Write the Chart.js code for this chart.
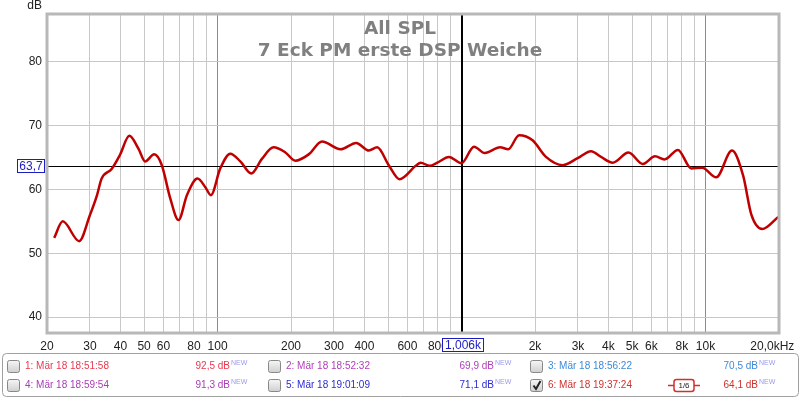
<!DOCTYPE html>
<html><head><meta charset="utf-8">
<script src="https://cdn.jsdelivr.net/npm/chart.js@4/dist/chart.umd.min.js"></script>
<style>html,body{margin:0;padding:0;background:#fff;overflow:hidden}#wrap{width:800px;height:398px;position:relative}</style>
</head><body><div id="wrap"><canvas id="c" width="800" height="398"></canvas></div>
<script>
// ---- data ----
const frequencies = [21.4,23.2,27.1,30.0,32.0,33.5,36.8,39.8,43.5,47.4,50.5,55.0,59.1,64.0,69.2,74.9,82.8,89.0,93.9,102.6,112.8,124,137.5,152,169.8,189.7,208.4,236.4,268,319,370,417,451,503,557,649,680,740,796,888,999,1125,1245,1439,1553,1722,1955,2218,2597,2991,3395,3731,4166,4831,5535,6211,6788,7706,8737,9690,11060,12830,14250,15420,17060,19860];
const splDb = [52.4,55.0,51.9,56.0,59.0,61.7,63.2,65.4,68.4,66.4,64.4,65.5,63.8,58.6,55.2,59.1,61.7,60.4,59.1,63.3,65.6,64.4,62.5,64.8,66.6,65.8,64.5,65.5,67.5,66.3,67.3,66.1,66.6,63.8,61.6,63.7,64.2,63.7,64.2,65.1,64.1,66.7,65.7,66.6,66.3,68.5,67.7,65.1,63.8,64.9,66.0,65.1,64.2,65.8,64.0,65.2,64.7,66.2,63.3,63.4,61.9,66.1,62.2,56.0,53.8,55.7];
const yTickValues = [40,50,60,70,80];
const xGridFrequencies = [20,30,40,50,60,70,80,90,100,200,300,400,500,600,700,800,900,1000,2000,3000,4000,5000,6000,7000,8000,9000,10000,20000];
const xTickLabels = {20:'20',30:'30',40:'40',50:'50',60:'60',80:'80',100:'100',200:'200',300:'300',400:'400',600:'600',800:'800',2000:'2k',3000:'3k',4000:'4k',5000:'5k',6000:'6k',8000:'8k',10000:'10k',20000:'20,0kHz    '};
const decadeFrequencies = [100,1000,10000];
const titleLines = ['All SPL','7 Eck PM erste DSP Weiche'];
const yUnitLabel = 'dB';
const cursorFreq = 1006, cursorLevel = 63.7;
const cursorFreqLabel = '1,006k', cursorLevelLabel = '63,7';
const legendNames = ['1: Mär 18 18:51:58','2: Mär 18 18:52:32','3: Mär 18 18:56:22','4: Mär 18 18:59:54','5: Mär 18 19:01:09','6: Mär 18 19:37:24'];
const legendLevels = ['92,5 dB','69,9 dB','70,5 dB','91,3 dB','71,1 dB','64,1 dB'];
const legendColors = ['#e8384f','#b040b8','#3d8ad6','#a83cb4','#2b2bd0','#d0302c'];
const legendChecked = [false,false,false,false,false,true];
const smoothingLabel = '1/6';

const FONT = "'Liberation Sans', Arial, sans-serif";
const TITLE_FONT = "'DejaVu Sans', sans-serif";

const bgPlugin = {
  id: 'bg',
  beforeDraw(chart) {
    const ctx = chart.ctx;
    ctx.save(); ctx.fillStyle = '#fff'; ctx.fillRect(0,0,chart.width,chart.height); ctx.restore();
  },
  beforeDatasetsDraw(chart) {
    const ctx = chart.ctx, a = chart.chartArea;
    const xs = chart.scales.x, ys = chart.scales.y;
    ctx.save();
    ctx.fillStyle = '#808080';
    ctx.font = 'bold 18.5px ' + TITLE_FONT;
    ctx.textAlign = 'center'; ctx.textBaseline = 'alphabetic';
    ctx.fillText(titleLines[0], 400, 33.5);
    ctx.fillText(titleLines[1], 400, 56);
    ctx.strokeStyle = '#000';
    ctx.lineWidth = 1;
    const cy = Math.round(ys.getPixelForValue(cursorLevel)) + 0.5;
    ctx.beginPath(); ctx.moveTo(a.left, cy); ctx.lineTo(a.right, cy); ctx.stroke();
    ctx.lineWidth = 2;
    const cx = Math.round(xs.getPixelForValue(cursorFreq));
    ctx.beginPath(); ctx.moveTo(cx, a.top); ctx.lineTo(cx, a.bottom); ctx.stroke();
    ctx.restore();
  },
  afterDraw(chart) {
    const ctx = chart.ctx, a = chart.chartArea;
    const xs = chart.scales.x, ys = chart.scales.y;
    ctx.save();
    ctx.strokeStyle = '#b8b8b8'; ctx.lineWidth = 3;
    ctx.strokeRect(a.left, a.top, a.right - a.left, a.bottom - a.top);
    ctx.fillStyle = '#222'; ctx.font = '12px ' + FONT;
    ctx.textAlign = 'right'; ctx.textBaseline = 'top';
    ctx.fillText(yUnitLabel, 42, 0);
    ctx.font = '12px ' + FONT; ctx.textBaseline = 'middle';
    const cy = ys.getPixelForValue(cursorLevel);
    let w = Math.round(ctx.measureText(cursorLevelLabel).width + 4);
    const lx = Math.round(a.left - 3 - w);
    ctx.fillStyle = '#fff'; ctx.fillRect(lx, Math.round(cy) - 6, w, 13);
    ctx.strokeStyle = '#1c1cc0'; ctx.lineWidth = 1;
    ctx.strokeRect(lx + 0.5, Math.round(cy) - 6.5, w, 13);
    ctx.fillStyle = '#1c1cc0'; ctx.textAlign = 'center';
    ctx.fillText(cursorLevelLabel, lx + w/2 + 0.5, Math.round(cy) + 0.5);
    const cx = xs.getPixelForValue(cursorFreq);
    w = Math.round(ctx.measureText(cursorFreqLabel).width + 5);
    const fx = Math.round(cx - w/2);
    ctx.fillStyle = '#fff'; ctx.fillRect(fx, 338, w, 13);
    ctx.strokeStyle = '#1c1cc0';
    ctx.strokeRect(fx + 0.5, 338.5, w, 13);
    ctx.fillStyle = '#1c1cc0';
    ctx.fillText(cursorFreqLabel, fx + w/2 + 0.5, 345.5);
    ctx.strokeStyle = '#a0a0a0'; ctx.lineWidth = 1;
    ctx.beginPath(); ctx.roundRect(2.5, 353.5, 796, 43, 4); ctx.stroke();
    const colX = [7, 268, 530];
    const levelRight = [230, 494, 758];
    const rowY = [366, 385];
    for (let i = 0; i < legendNames.length; i++) {
      const r = Math.floor(i / 3), c = i % 3;
      const bx = colX[c] + 0.5, by = rowY[r] - 6 + 0.5;
      const g = ctx.createLinearGradient(0, by, 0, by + 12);
      g.addColorStop(0, '#f6f6f6'); g.addColorStop(1, '#cfcfcf');
      ctx.fillStyle = g; ctx.strokeStyle = '#888';
      ctx.beginPath(); ctx.roundRect(bx, by, 12, 12, 2); ctx.fill(); ctx.stroke();
      if (legendChecked[i]) {
        ctx.strokeStyle = '#222'; ctx.lineWidth = 2;
        ctx.beginPath(); ctx.moveTo(bx + 3, by + 6); ctx.lineTo(bx + 5.5, by + 9.5); ctx.lineTo(bx + 10, by + 1.5); ctx.stroke();
        ctx.lineWidth = 1;
      }
      ctx.font = '10px ' + FONT; ctx.textBaseline = 'middle';
      ctx.fillStyle = legendColors[i]; ctx.textAlign = 'left';
      ctx.fillText(legendNames[i], colX[c] + 18, rowY[r] + 0.5);
      ctx.textAlign = 'right';
      ctx.fillText(legendLevels[i], levelRight[c], rowY[r] + 0.5);
      ctx.font = '7px ' + FONT; ctx.textAlign = 'left'; ctx.fillStyle = '#9a9aee';
      ctx.fillText('NEW', levelRight[c] + 1, rowY[r] - 3);
      if (legendChecked[i]) {
        const sy = rowY[r] + 0.5;
        ctx.strokeStyle = legendColors[i]; ctx.lineWidth = 1.5;
        ctx.beginPath(); ctx.moveTo(668, sy); ctx.lineTo(674, sy); ctx.moveTo(694, sy); ctx.lineTo(700, sy); ctx.stroke();
        ctx.beginPath(); ctx.roundRect(674, sy - 6, 20, 12, 2.5); ctx.stroke();
        ctx.fillStyle = '#222'; ctx.font = '8px ' + FONT; ctx.textAlign = 'center';
        ctx.fillText(smoothingLabel, 684, sy + 0.5);
        ctx.lineWidth = 1;
      }
    }
    ctx.restore();
  }
};

const points = frequencies.map((f, i) => ({x: f, y: splDb[i]}));

new Chart(document.getElementById('c'), {
  type: 'line',
  data: { datasets: [{
    data: points,
    borderColor: '#c00000',
    borderWidth: 2.5,
    pointRadius: 0,
    fill: false,
    cubicInterpolationMode: 'monotone'
  }]},
  options: {
    responsive: false,
    animation: false,
    devicePixelRatio: 1,
    layout: { padding: { left: 0, right: 21, top: 14, bottom: 0 } },
    plugins: { legend: { display: false }, tooltip: { enabled: false }, title: { display: false } },
    scales: {
      x: {
        type: 'logarithmic', min: 20, max: 20000,
        afterBuildTicks(scale) { scale.ticks = xGridFrequencies.map(v => ({ value: v })); },
        afterFit(scale) { scale.height = 65; scale.paddingLeft = 0; scale.paddingRight = 0; },
        border: { display: false },
        grid: {
          drawTicks: false,
          color: ctx => decadeFrequencies.includes(ctx.tick && ctx.tick.value) ? '#8c8c8c' : '#c8c8c8',
          lineWidth: 1
        },
        ticks: {
          autoSkip: false, maxRotation: 0, minRotation: 0, padding: 6,
          color: '#222', font: { family: FONT, size: 12 },
          callback: (v) => xTickLabels[v] !== undefined ? xTickLabels[v] : ''
        }
      },
      y: {
        type: 'linear', min: 37.5, max: 87.5,
        afterBuildTicks(scale) { scale.ticks = yTickValues.map(v => ({ value: v })); },
        afterFit(scale) { scale.width = 47; scale.paddingTop = 0; scale.paddingBottom = 0; },
        border: { display: false },
        grid: { drawTicks: false, color: '#c8c8c8', lineWidth: 1 },
        ticks: { padding: 5, color: '#222', font: { family: FONT, size: 12 }, callback: v => String(v) }
      }
    }
  },
  plugins: [bgPlugin]
});
</script></body></html>
